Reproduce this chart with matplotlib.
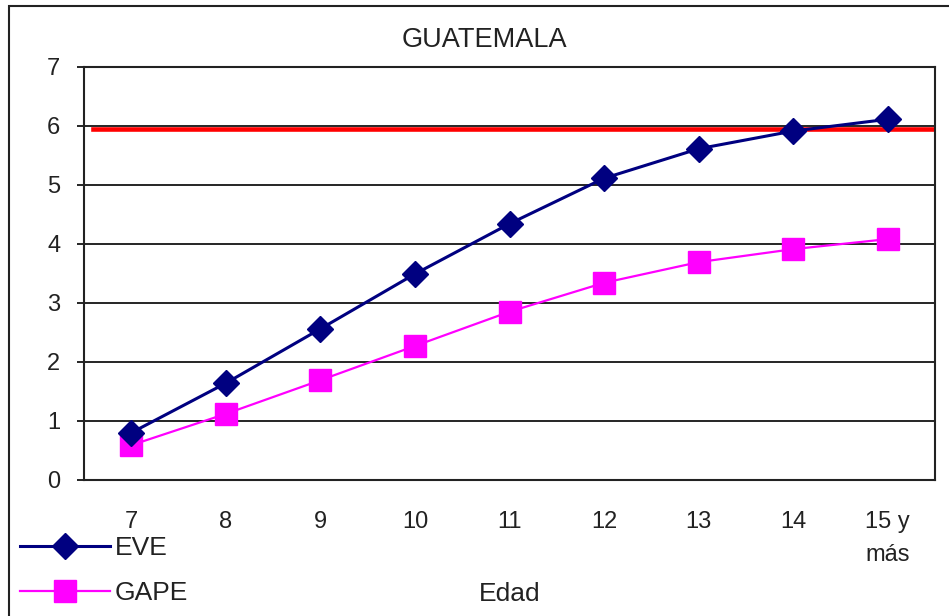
import matplotlib
matplotlib.use("Agg")
import matplotlib.pyplot as plt
from matplotlib.patches import Rectangle

plt.rcParams["font.family"] = ["Liberation Sans", "DejaVu Sans"]

# data
edades = ["7", "8", "9", "10", "11", "12", "13", "14", "15 y\nmás"]
eve = [0.80, 1.64, 2.56, 3.49, 4.34, 5.11, 5.61, 5.91, 6.11]
gape = [0.59, 1.12, 1.69, 2.27, 2.85, 3.34, 3.69, 3.91, 4.08]
umbral = 5.95

TXT = "#222222"
W, H = 949, 616
fig = plt.figure(figsize=(W / 100, H / 100), dpi=100, facecolor="white")
ax = fig.add_axes([84 / W, 1 - 480 / H, (935 - 84) / W, (480 - 66.7) / H])

# outer chart border
fig.patches.append(Rectangle((9 / W, -0.05), 1.0, 1 - 6 / H + 0.05,
                             transform=fig.transFigure, fill=False,
                             edgecolor="#222222", linewidth=1.5, clip_on=False))

x = list(range(len(edades)))
for g in range(1, 7):
    ax.axhline(g, color="black", lw=1.2, zorder=1)
ax.axhline(umbral, xmin=0.01, xmax=0.997, color="#ff0000", lw=3.3, zorder=2)

ax.plot(x, eve, color="#000080", lw=2.2, marker="D", ms=13,
        markerfacecolor="#000080", markeredgecolor="#000080", label="EVE", zorder=4)
ax.plot(x, gape, color="#ff00ff", lw=1.6, marker="s", ms=16,
        markerfacecolor="#ff00ff", markeredgecolor="#ff00ff", label="GAPE", zorder=3)

ax.set_xlim(-0.5, len(edades) - 0.5)
ax.set_ylim(0, 7)
ax.set_yticks(range(0, 8))
ax.set_xticks(x)
ax.set_xticklabels(edades, multialignment="center", linespacing=1.65)
ax.tick_params(axis="y", length=5, width=1.2, pad=12, labelsize=17, labelcolor=TXT)
ax.tick_params(axis="x", length=0, pad=22, labelsize=17, labelcolor=TXT)
for sp in ax.spines.values():
    sp.set_linewidth(1.5)
    sp.set_color("#222222")

ax.set_xlabel("Edad", fontsize=19, color=TXT)
ax.xaxis.set_label_coords(0.5, -0.246)

fig.text(484 / W, 1 - 40 / H, "GUATEMALA", fontsize=19.5, color=TXT,
         ha="center", va="center")

leg = ax.legend(loc="upper left", bbox_to_anchor=(20 / W, 1 - 536 / H),
                bbox_transform=fig.transFigure, frameon=True, fontsize=19,
                handlelength=3.4, handletextpad=0.2, labelspacing=0.8,
                borderpad=0, borderaxespad=0, fancybox=False)
leg.get_frame().set_facecolor("white")
leg.get_frame().set_edgecolor("none")
leg.get_frame().set_alpha(1)
leg.set_zorder(10)
for t in leg.get_texts():
    t.set_color(TXT)

fig.savefig("out.png", dpi=100, facecolor="white")
